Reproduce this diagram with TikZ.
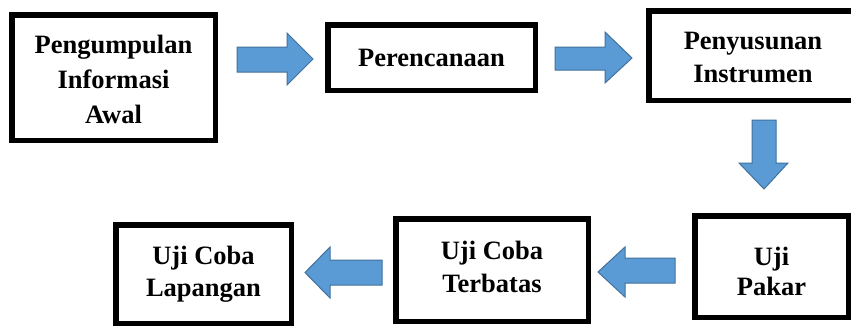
\documentclass[tikz,border=0pt]{standalone}
\usepackage{fontspec}
\setmainfont{Liberation Serif}
\definecolor{arrowfill}{RGB}{91,155,213}
\definecolor{arrowline}{RGB}{65,113,156}
\tikzset{
  stepbox/.style={draw=black, line width=5.5pt, fill=white, inner sep=0pt},
  steplabel/.style={align=center, inner sep=0pt, font=\fontsize{26.5}{35}\selectfont\bfseries},
  blockarrow/.style={fill=arrowfill, draw=arrowline, line width=1pt, line join=miter},
}
\begin{document}
\begin{tikzpicture}[x=1pt,y=-1pt]
\clip (0,0) rectangle (851,327);
\fill[white] (0,0) rectangle (851,327);
\node[stepbox, minimum width=203.5pt, minimum height=125.5pt] (b1) at (113.5,77.5) {};
\node[steplabel] (t1) at ([yshift=-2pt]b1.center) {Pengumpulan\\Informasi\\Awal};
\node[stepbox, minimum width=207.5pt, minimum height=65.5pt] (b2) at (431.5,57.5) {};
\node[steplabel] (t2) at (b2.center) {Perencanaan};
\node[stepbox, minimum width=204.5pt, minimum height=89.5pt] (b3) at (751,55.5) {};
\node[steplabel, font=\fontsize{26.5}{33}\selectfont\bfseries] (t3) at ([xshift=2pt,yshift=-2pt]b3.center) {Penyusunan\\Instrumen};
\node[stepbox, minimum width=153.5pt, minimum height=101.5pt] (b4) at (771.5,266.5) {};
\node[steplabel, font=\fontsize{26.5}{30}\selectfont\bfseries] (t4) at ([yshift=-5pt]b4.center) {Uji\\Pakar};
\node[stepbox, minimum width=192.5pt, minimum height=102.5pt] (b5) at (492,270) {};
\node[steplabel, font=\fontsize{26.5}{33}\selectfont\bfseries] (t5) at ([yshift=3pt]b5.center) {Uji Coba\\Terbatas};
\node[stepbox, minimum width=175.5pt, minimum height=98.5pt] (b6) at (203.5,274) {};
\node[steplabel, font=\fontsize{26.5}{32}\selectfont\bfseries] (t6) at (b6.center) {Uji Coba\\Lapangan};
% block arrows
\draw[blockarrow] (237,47) -- (287,47) -- (287,33) -- (313,59) -- (287,85) -- (287,72) -- (237,72) -- cycle;
\draw[blockarrow] (555,47) -- (605,47) -- (605,32) -- (632,58) -- (605,83) -- (605,70) -- (555,70) -- cycle;
\draw[blockarrow] (752,120) -- (776,120) -- (776,163) -- (788,163) -- (764,189) -- (739,163) -- (752,163) -- cycle;
\draw[blockarrow] (675,258) -- (625,258) -- (625,247) -- (598,272) -- (625,297) -- (625,283) -- (675,283) -- cycle;
\draw[blockarrow] (382,260) -- (330,260) -- (330,247) -- (305,272.5) -- (330,298) -- (330,285) -- (382,285) -- cycle;
\end{tikzpicture}
\end{document}
